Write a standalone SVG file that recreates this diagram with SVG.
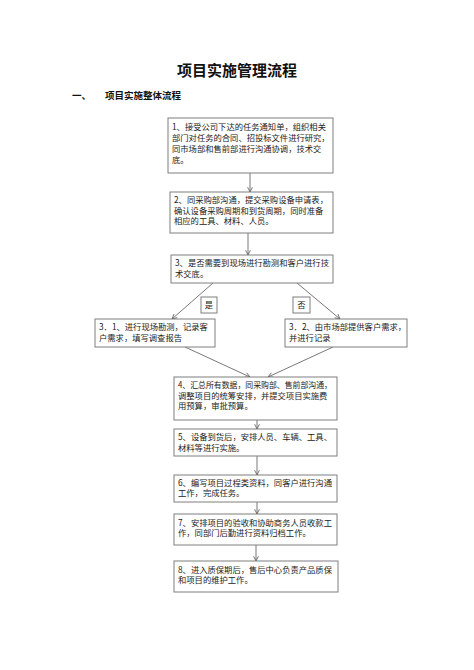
<svg xmlns="http://www.w3.org/2000/svg" width="474" height="670" viewBox="0 0 474 670">
<style>
.bx{fill:#fff;stroke:#7f7f7f;stroke-width:1}
.t{font-family:"Noto Sans CJK SC","Noto Sans",sans-serif;font-size:8.3px;fill:#222}
.c{stroke:#555;stroke-width:0.8;fill:none}
.title{font-family:"Noto Sans CJK SC",sans-serif;font-size:15px;font-weight:bold;fill:#111}
.sub{font-family:"Noto Sans CJK SC",sans-serif;font-size:9.5px;font-weight:bold;fill:#111}
</style>
<defs>
<marker id="a" viewBox="0 0 10 10" refX="9" refY="5" markerWidth="6" markerHeight="6" orient="auto" markerUnits="userSpaceOnUse">
<path d="M1,1 L9,5 L1,9" fill="none" stroke="#555" stroke-width="1.3"/>
</marker>
</defs>
<rect width="474" height="670" fill="#fff"/>
<text class="title" x="237" y="76" text-anchor="middle">项目实施管理流程</text>
<text class="sub" x="72" y="99">一、</text>
<text class="sub" x="105" y="99">项目实施整体流程</text>

<g id="connectors">
<line class="c" x1="250" y1="173" x2="250" y2="192" marker-end="url(#a)"/>
<line class="c" x1="248" y1="233" x2="248" y2="255" marker-end="url(#a)"/>
<line class="c" x1="213" y1="283" x2="172" y2="319" marker-end="url(#a)"/>
<line class="c" x1="297" y1="283" x2="340" y2="319" marker-end="url(#a)"/>
<line class="c" x1="185" y1="347" x2="250" y2="377" marker-end="url(#a)"/>
<line class="c" x1="333" y1="347" x2="268" y2="377" marker-end="url(#a)"/>
<line class="c" x1="257" y1="420" x2="257" y2="429" marker-end="url(#a)"/>
<line class="c" x1="257" y1="456" x2="257" y2="475" marker-end="url(#a)"/>
<line class="c" x1="257" y1="502" x2="257" y2="514" marker-end="url(#a)"/>
<line class="c" x1="256" y1="545" x2="256" y2="561" marker-end="url(#a)"/>
</g>

<g id="yes">
<rect class="bx" x="201" y="297" width="16" height="16"/>
<text class="t" x="209" y="308" text-anchor="middle">是</text>
</g>
<g id="no">
<rect class="bx" x="293" y="297" width="17" height="16"/>
<text class="t" x="301.5" y="308" text-anchor="middle">否</text>
</g>

<g id="n1">
<rect class="bx" x="168" y="118" width="165" height="55"/>
<text class="t" x="172"><tspan x="172" y="129.5">1、接受公司下达的任务通知单，组织相关</tspan><tspan x="172" y="140.5">部门对任务的合同、招投标文件进行研究，</tspan><tspan x="172" y="151.5">同市场部和售前部进行沟通协调，技术交</tspan><tspan x="172" y="162.5">底。</tspan></text>
</g>
<g id="n2">
<rect class="bx" x="170" y="192" width="163" height="41"/>
<text class="t"><tspan x="174" y="203">2、同采购部沟通，提交采购设备申请表，</tspan><tspan x="174" y="213.5">确认设备采购周期和到货周期，同时准备</tspan><tspan x="174" y="224">相应的工具、材料、人员。</tspan></text>
</g>
<g id="n3">
<rect class="bx" x="171" y="255" width="162" height="28"/>
<text class="t"><tspan x="175" y="266">3、是否需要到现场进行勘测和客户进行技</tspan><tspan x="175" y="276.5">术交底。</tspan></text>
</g>
<g id="n31">
<rect class="bx" x="95" y="319" width="120" height="28"/>
<text class="t"><tspan x="99" y="330">3．1、进行现场勘测，记录客</tspan><tspan x="99" y="340.5">户需求，填写调查报告</tspan></text>
</g>
<g id="n32">
<rect class="bx" x="285" y="319" width="122" height="28"/>
<text class="t"><tspan x="289" y="330">3．2、由市场部提供客户需求，</tspan><tspan x="289" y="340.5">并进行记录</tspan></text>
</g>
<g id="n4">
<rect class="bx" x="174" y="377" width="163" height="43"/>
<text class="t" x="178" y="388" textLength="154" lengthAdjust="spacingAndGlyphs">4、汇总所有数据，同采购部、售前部沟通，</text>
<text class="t"><tspan x="178" y="398.5">调整项目的统筹安排，并提交项目实施费</tspan><tspan x="178" y="409">用预算，审批预算。</tspan></text>
</g>
<g id="n5">
<rect class="bx" x="174" y="429" width="163" height="27"/>
<text class="t"><tspan x="178" y="440">5、设备到货后，安排人员、车辆、工具、</tspan><tspan x="178" y="450.5">材料等进行实施。</tspan></text>
</g>
<g id="n6">
<rect class="bx" x="174" y="475" width="163" height="27"/>
<text class="t"><tspan x="178" y="485.5">6、编写项目过程类资料，同客户进行沟通</tspan><tspan x="178" y="496">工作，完成任务。</tspan></text>
</g>
<g id="n7">
<rect class="bx" x="174" y="514" width="163" height="31"/>
<text class="t"><tspan x="178" y="525.5">7、安排项目的验收和协助商务人员收款工</tspan><tspan x="178" y="536">作，同部门后勤进行资料归档工作。</tspan></text>
</g>
<g id="n8">
<rect class="bx" x="174" y="561" width="164" height="31"/>
<text class="t"><tspan x="178" y="572.5">8、进入质保期后，售后中心负责产品质保</tspan><tspan x="178" y="583">和项目的维护工作。</tspan></text>
</g>
</svg>
